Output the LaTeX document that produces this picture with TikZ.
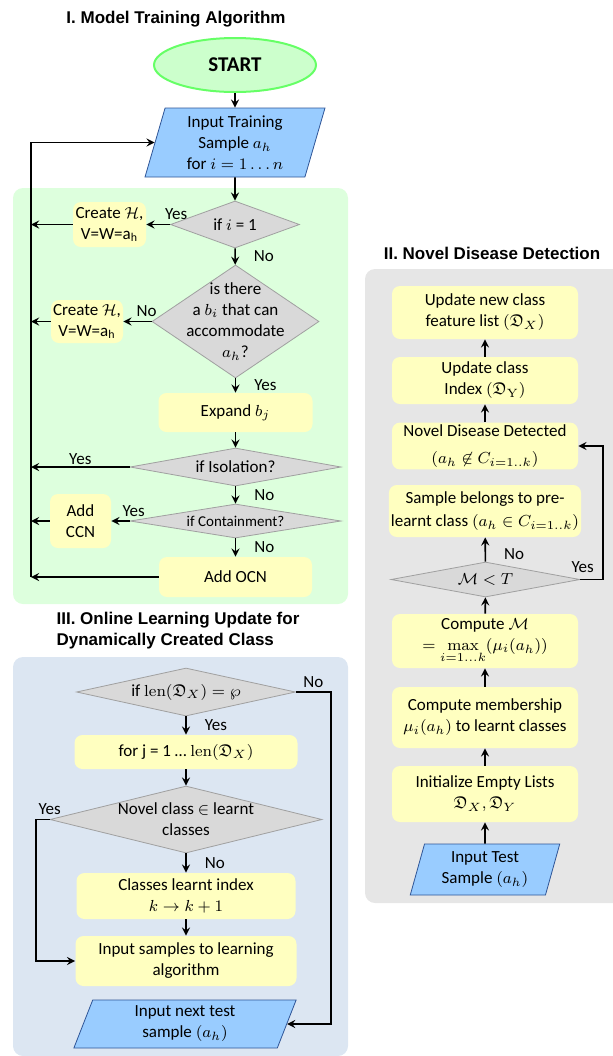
\documentclass[tikz,border=0pt]{standalone}
\usepackage{amsmath}
\usepackage{amssymb}
\usepackage[no-math]{fontspec}
\setmainfont{Carlito}
\newfontfamily\titlefont{Liberation Sans}
\usepackage{xcolor}
\usetikzlibrary{positioning,calc,shapes.geometric}

\definecolor{boxyellow}{RGB}{255,255,192}
\definecolor{decfill}{RGB}{217,217,217}
\definecolor{decgray}{RGB}{160,160,160}
\definecolor{ioblue}{RGB}{153,204,255}
\definecolor{iodark}{RGB}{47,85,151}
\definecolor{startfill}{RGB}{204,255,204}
\definecolor{startgreen}{RGB}{102,255,102}
\definecolor{panelgreen}{RGB}{221,255,221}
\definecolor{panelblue}{RGB}{220,230,242}
\definecolor{panelgray}{RGB}{230,230,230}

\begin{document}
\begin{tikzpicture}[x=0.5pt,y=-0.5pt,font=\fontsize{8.5}{10.5}\selectfont,
	proc/.style={rectangle,rounded corners=4pt,fill=boxyellow,align=center,inner sep=1pt,minimum width=93pt},
	dec/.style={diamond,draw=decgray,fill=decfill,inner sep=0pt},
	io/.style={trapezium,trapezium stretches=true,trapezium left angle=75,trapezium right angle=105,draw=iodark,fill=ioblue,align=center,inner sep=1pt},
	lbl/.style={inner sep=1pt},
	flow/.style={-stealth,line width=0.8pt},
	ttl/.style={font=\titlefont\bfseries\fontsize{8.5}{10.5}\selectfont}]
		\useasboundingbox (0,0) rectangle (613,1056);
		% panels
		\fill[panelgreen,rounded corners=5pt] (13,188) rectangle (348,604);
		\fill[panelblue,rounded corners=5pt] (13,657) rectangle (348,1056);
		\fill[panelgray,rounded corners=5pt] (365,269) rectangle (640,903);
		\coordinate (rail) at (31,0);
		\coordinate (railb) at (36,0);
		\coordinate (railc) at (331,0);
		\coordinate (raild) at (603,0);

		% I. model training
		\node[ttl] (t1) at (176,19) {I. Model Training Algorithm};
		\node[ellipse,draw=startgreen,fill=startfill,line width=1pt,minimum width=81pt,minimum height=27pt,font=\bfseries\fontsize{10.5}{12}\selectfont] (start) at (235,65) {START};
		\node[io,minimum width=90.5pt,minimum height=34.5pt,trapezium left angle=76,trapezium right angle=104] (in) at (235,142.5) {Input Training\\Sample $a_h$\\for $i=1\ldots n$};
		\node[dec,minimum width=64.5pt,minimum height=23.5pt,label={center:if $i$ = 1}] (d1) at (235,224.5) {};
		\node[proc,minimum width=36.5pt,minimum height=22.5pt] (h1) at (109.5,224.5) {Create $\mathcal{H}$,\\V=W=a\textsubscript{h}};
		\node[dec,minimum width=83.5pt,minimum height=56.5pt,label={[align=center]center:is there\\a $b_i$ that can\\accommodate\\$a_h$?}] (d2) at (235.5,321.5) {};
		\node[proc,minimum width=36pt,minimum height=21.5pt] (h2) at (87,321.5) {Create $\mathcal{H}$,\\V=W=a\textsubscript{h}};
		\node[proc,minimum width=77pt,minimum height=19.5pt] (exp) at (235.5,412.5) {Expand $b_j$};
		\node[dec,minimum width=105.5pt,minimum height=19pt,label={center:if Isolation?}] (iso) at (235.5,467) {};
		\node[dec,minimum width=105.5pt,minimum height=17pt,label={[font=\fontsize{7.5}{9}\selectfont]center:if Containment?}] (con) at (235.5,521) {};
		\node[proc,minimum width=30.5pt,minimum height=27pt] (ccn) at (80.5,521) {Add\\CCN};
		\node[proc,minimum width=76.5pt,minimum height=20pt] (ocn) at (235.5,577) {Add OCN};

		\draw[flow] (start) -- (in);
		\draw[flow] (in) -- (d1);
		\draw[flow] (d1) -- node[lbl,above,pos=0,xshift=3pt,yshift=1pt] (y1) {Yes} (h1);
		\draw[flow] (h1.west) -- (h1.west -| rail);
		\draw[flow] (d1) -- node[lbl,right=8pt] (n1) {No} (d2);
		\draw[flow] (d2) -- node[lbl,above,pos=0,xshift=-2.5pt,yshift=1pt] (n2) {No} (h2);
		\draw[flow] (h2.west) -- (h2.west -| rail);
		\draw[flow] (d2) -- node[lbl,right=8pt] (y2) {Yes} (exp);
		\draw[flow] (exp) -- (iso);
		\draw[flow] (iso.west) -- node[lbl,above] (y3) {Yes} (iso.west -| rail);
		\draw[flow] (iso) -- node[lbl,right=8pt] (n3) {No} (con);
		\draw[flow] (con) -- node[lbl,above,pos=0,xshift=2pt,yshift=1pt] (y4) {Yes} (ccn);
		\draw[flow] (ccn.west) -- (ccn.west -| rail);
		\draw[flow] (con) -- node[lbl,right=8pt] (n4) {No} (ocn);
		\draw[flow] (ocn.west) -- (ocn.west -| rail);
		\draw[flow] (ocn.west -| rail) |- (in.west);

		% III. online learning update
		\node[ttl,align=left] (t3) at (178,631) {III. Online Learning Update for\\Dynamically Created Class};
		\node[dec,minimum width=109.5pt,minimum height=24pt,label={center:if $\mathrm{len}(\mathfrak{D}_X) = \wp$}] (dl) at (186,692) {};
		\node[proc,minimum width=111.5pt,minimum height=17pt] (loop) at (186,752) {for j = 1 \dots{} $\mathrm{len}(\mathfrak{D}_X)$};
		\node[dec,minimum width=136pt,minimum height=33.5pt,label={[align=center]center:Novel class $\in$ learnt\\classes}] (dn) at (186,819.5) {};
		\node[proc,minimum width=109.5pt,minimum height=23pt] (idx) at (186,896) {Classes learnt index\\$k \rightarrow k+1$};
		\node[proc,minimum width=110.5pt,minimum height=25pt] (learn) at (186,961) {Input samples to learning\\algorithm};
		\node[io,minimum width=111.5pt,minimum height=24pt] (next) at (185,1024) {Input next test\\sample $(a_h)$};

		\draw[flow] (dl) -- node[lbl,right=8pt] (y5) {Yes} (loop);
		\draw[flow] (loop) -- (dn);
		\draw[flow] (dn) -- node[lbl,right=8pt] (n5) {No} (idx);
		\draw[flow] (idx) -- (learn);
		\draw[flow] (dn.west) -- node[lbl,above,pos=0,yshift=1pt] (y6) {Yes} (dn.west -| railb) |- (learn.west);
		\draw[flow] (dl.east) -- node[lbl,above,yshift=1pt] (n6) {No} (dl.east -| railc) |- (next.east);

		% II. novel disease detection
		\node[ttl] (t2) at (492,253) {II. Novel Disease Detection};
		\node[proc,minimum height=26.5pt] (upx) at (485,312.5) {Update new class\\feature list $(\mathfrak{D}_X)$};
		\node[proc,minimum height=23.5pt] (upy) at (485,380.5) {Update class\\Index $(\mathfrak{D}_\mathrm{Y})$};
		\node[proc,minimum height=23pt] (nov) at (485,446) {Novel Disease Detected\\[3pt]$(a_h \not\in C_{i=1..k})$};
		\node[proc,minimum height=26pt] (pre) at (485,511) {Sample belongs to pre-\\[1pt]learnt class $(a_h \in C_{i=1..k})$};
		\node[dec,minimum width=94.5pt,minimum height=17.5pt,label={center:$\mathcal{M} < T$}] (thr) at (485.5,579.5) {};
		\node[proc,minimum height=27pt] (cm) at (485,641) {Compute $\mathcal{M}$\\$= \max\limits_{i=1\ldots k}(\mu_i(a_h))$};
		\node[proc,minimum height=30.5pt] (mem) at (485,717.5) {Compute membership\\$\mu_i(a_h)$ to learnt classes};
		\node[proc,minimum height=28pt] (init) at (485,794) {Initialize Empty Lists\\$\mathfrak{D}_X, \mathfrak{D}_Y$};
		\node[io,minimum width=75pt,minimum height=25.5pt] (test) at (485,869.5) {Input Test\\Sample $(a_h)$};

		\draw[flow] (test) -- (init);
		\draw[flow] (init) -- (mem);
		\draw[flow] (mem) -- (cm);
		\draw[flow] (cm) -- (thr);
		\draw[flow] (thr) -- node[lbl,right=8pt,pos=0.3] (n7) {No} (pre);
		\draw[flow] (thr.east) -- node[lbl,above,pos=0.1,yshift=2pt] (y7) {Yes} (thr.east -| raild) |- (nov.east);
		\draw[flow] (nov) -- (upy);
		\draw[flow] (upy) -- (upx);
	\end{tikzpicture}
\end{document}
